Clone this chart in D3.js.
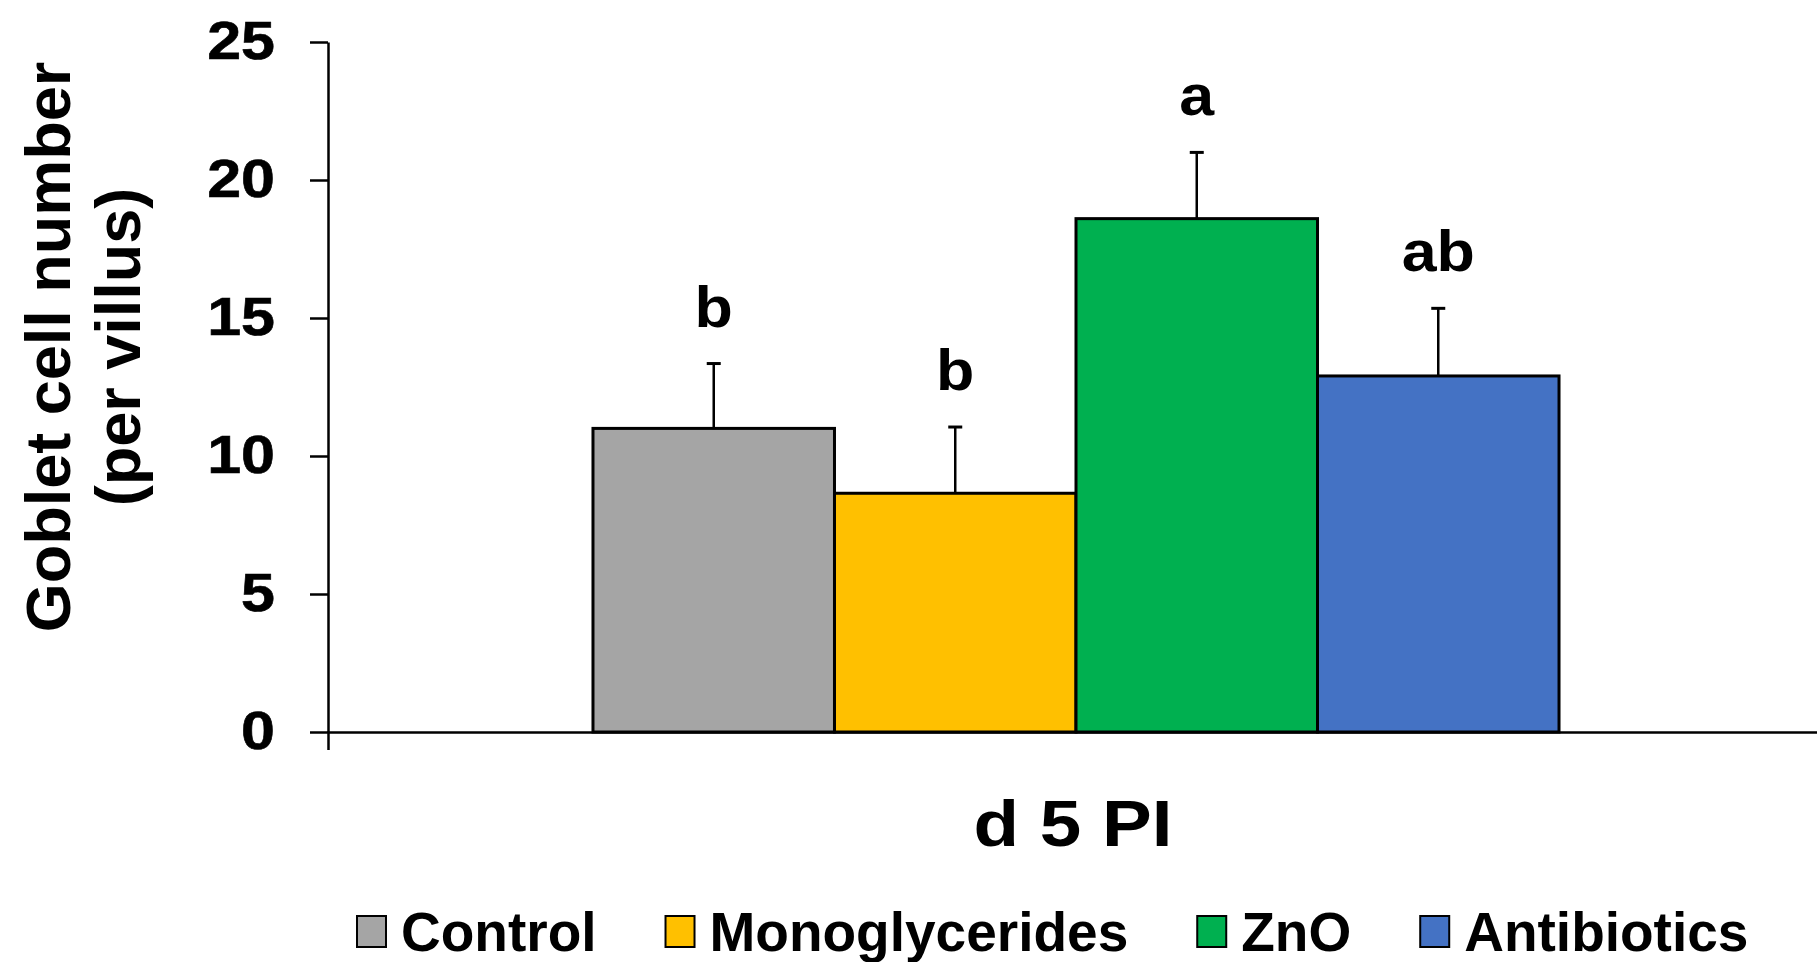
<!DOCTYPE html>
<html>
<head>
<meta charset="utf-8">
<script src="https://cdn.jsdelivr.net/npm/d3@7"></script>
<style>
  html, body { margin: 0; padding: 0; background: #fff; }
  svg { display: block; font-family: "Liberation Sans", Arial, sans-serif; font-weight: bold; }
</style>
</head>
<body>
<div id="chart"></div>
<script>
const categories = ['d 5 PI'];
const groups = ['Control', 'Monoglycerides', 'ZnO', 'Antibiotics'];
const means = [11.0, 8.65, 18.6, 12.9];
const errors = [2.35, 2.4, 2.4, 2.45];
const letters = ['b', 'b', 'a', 'ab'];
const colors = ['#A5A5A5', '#FFC000', '#00B050', '#4472C4'];
const yTicks = [0, 5, 10, 15, 20, 25];

const W = 1817, H = 962;
const margin = {top: 42, right: -7, bottom: 230, left: 328};
const width = W - margin.left - margin.right;
const height = H - margin.top - margin.bottom;

const svg = d3.select('#chart').append('svg')
  .attr('width', W)
  .attr('height', H);

const plotArea = svg.append('g')
  .attr('transform', `translate(${margin.left}, ${margin.top})`);

const yScale = d3.scaleLinear()
  .domain([0, 25])
  .range([height, 0]);

const x0 = d3.scaleBand()
  .domain(categories)
  .range([0, width]);

// excel style gap width around the cluster
const gap = 0.2743;
const x1 = d3.scaleBand()
  .domain(groups)
  .range([x0.bandwidth() * gap / (1 + 2 * gap), x0.bandwidth() * (1 + gap) / (1 + 2 * gap)]);

const colScale = d3.scaleOrdinal().domain(groups).range(colors);

const data = groups.map((g, i) => ({cat: categories[0], group: g, mean: means[i], err: errors[i], letter: letters[i]}));

// y axis
const yAxis = plotArea.append('g')
  .call(d3.axisLeft(yScale).tickValues(yTicks).tickSize(18).tickSizeOuter(0).tickPadding(35));
yAxis.select('.domain').attr('stroke', '#000').attr('stroke-width', 2.5);
yAxis.selectAll('.tick line').attr('stroke', '#000').attr('stroke-width', 2.5);
yAxis.selectAll('.tick text')
  .attr('font-size', 53)
  .attr('font-family', '"Liberation Sans", Arial, sans-serif')
  .attr('font-weight', 'bold')
  .attr('fill', '#000')
  .attr('stroke', '#000')
  .attr('stroke-width', 0.6)
  .attr('x', -53 / 1.15)
  .attr('transform', 'scale(1.15,1)');

// bars
const bars = plotArea.append('g')
  .selectAll('g')
  .data(data)
  .join('g')
    .attr('transform', d => `translate(${x0(d.cat)}, 0)`);

// error bars (upper only)
bars.append('line')
  .attr('x1', d => x1(d.group) + x1.bandwidth() / 2)
  .attr('x2', d => x1(d.group) + x1.bandwidth() / 2)
  .attr('y1', d => yScale(d.mean))
  .attr('y2', d => yScale(d.mean + d.err))
  .attr('stroke', '#000')
  .attr('stroke-width', 2.5);
bars.append('line')
  .attr('x1', d => x1(d.group) + x1.bandwidth() / 2 - 7)
  .attr('x2', d => x1(d.group) + x1.bandwidth() / 2 + 7)
  .attr('y1', d => yScale(d.mean + d.err))
  .attr('y2', d => yScale(d.mean + d.err))
  .attr('stroke', '#000')
  .attr('stroke-width', 3);

bars.append('rect')
  .attr('x', d => x1(d.group))
  .attr('y', d => yScale(d.mean))
  .attr('width', x1.bandwidth())
  .attr('height', d => yScale(0) - yScale(d.mean))
  .attr('fill', d => colScale(d.group))
  .attr('stroke', '#000')
  .attr('stroke-width', 3);

// significance letters
bars.append('text')
  .attr('transform', d => `translate(${x1(d.group) + x1.bandwidth() / 2}, ${yScale(d.mean + d.err) - 37}) scale(1.1,1)`)
  .attr('text-anchor', 'middle')
  .attr('font-size', 57)
  .text(d => d.letter);

// x axis
const xAxis = plotArea.append('g')
  .attr('transform', `translate(0, ${height})`)
  .call(d3.axisBottom(x0).tickSize(0).tickSizeOuter(18).tickPadding(0));
xAxis.select('.domain').attr('stroke', '#000').attr('stroke-width', 2.5);
xAxis.selectAll('.tick text').remove();

plotArea.append('text')
  .attr('transform', `translate(${x0(categories[0]) + x0.bandwidth() / 2 - 3}, ${height + 114}) scale(1.165,1)`)
  .attr('text-anchor', 'middle')
  .attr('font-size', 64)
  .text(categories[0]);

// y label
const yLabel = svg.append('text')
  .attr('transform', 'translate(70, 347) rotate(-90)')
  .attr('text-anchor', 'middle')
  .attr('font-size', 63);
yLabel.append('tspan').attr('x', 0).attr('y', 0).text('Goblet cell number');
yLabel.append('tspan').attr('x', 0).attr('y', 70).text('(per villus)');

// legend
const legend = svg.append('g').attr('transform', 'translate(357, 932)');
let lx = 0;
groups.forEach((g, i) => {
  const item = legend.append('g').attr('transform', `translate(${lx}, 0)`);
  item.append('rect')
    .attr('x', 0).attr('y', -16)
    .attr('width', 29).attr('height', 31)
    .attr('fill', colScale(g))
    .attr('stroke', '#000')
    .attr('stroke-width', 2);
  const t = item.append('text')
    .attr('x', 44).attr('y', 19)
    .attr('font-size', 55)
    .text(g);
  lx += 44 + t.node().getComputedTextLength() + 69;
});
</script>
</body>
</html>
